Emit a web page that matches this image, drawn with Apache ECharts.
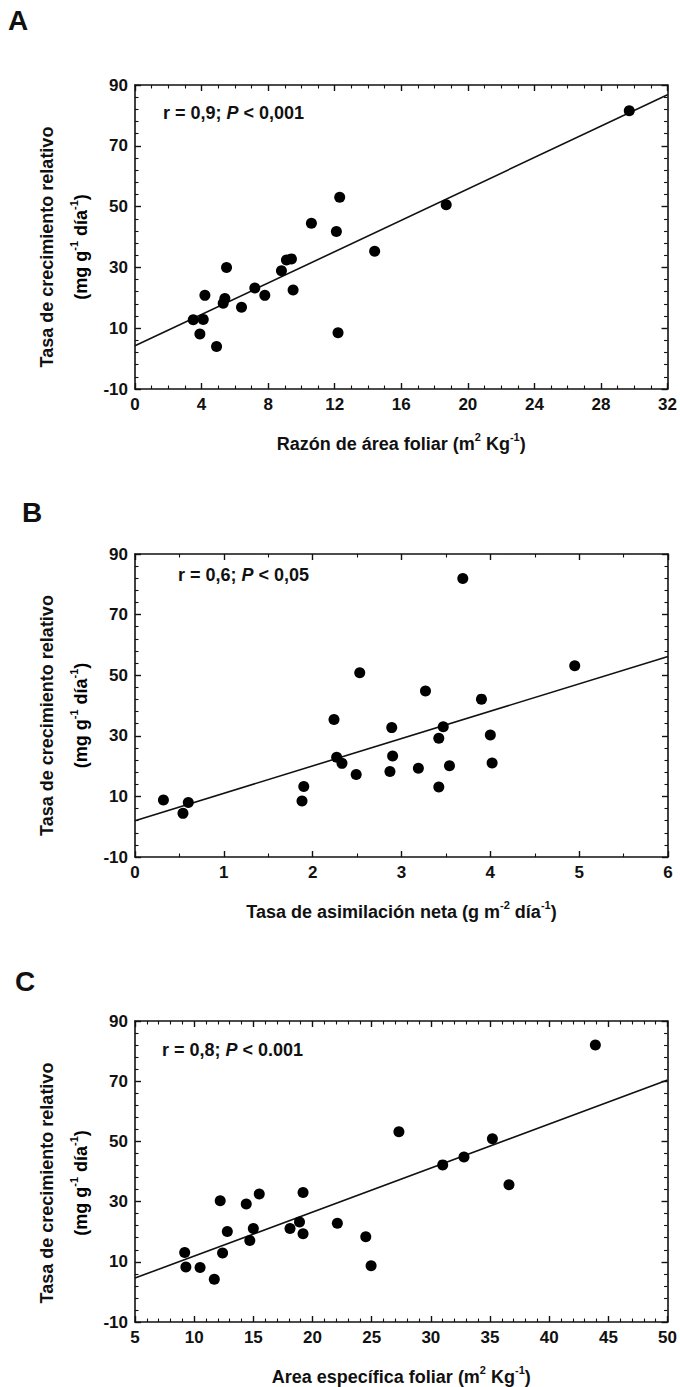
<!DOCTYPE html>
<html>
<head>
<meta charset="utf-8">
<script src="https://cdn.jsdelivr.net/npm/echarts@6/dist/echarts.min.js"></script>
<style>
html,body{margin:0;padding:0;background:#fff;}
#chart{width:680px;height:1387px;}
</style>
</head>
<body>
<div id="chart"></div>
<script>
// ---------- data ----------
// Panel A: Razón de área foliar (x) vs Tasa de crecimiento relativo (y)
const rafX = [29.7, 18.7, 12.3, 10.6, 12.1, 14.4, 9.4, 9.1, 8.8, 5.5, 9.5, 7.2, 7.8, 4.2, 5.4, 5.3, 6.4, 3.5, 4.1, 3.9, 4.9, 12.2];
const rafY = [81.5, 50.6, 53.1, 44.5, 41.8, 35.3, 32.8, 32.4, 28.9, 30.0, 22.6, 23.2, 20.8, 20.8, 19.8, 18.2, 16.9, 12.8, 12.9, 8.1, 4.0, 8.5];
// Panel B: Tasa de asimilación neta (x)
const tanX = [0.32, 0.54, 0.60, 1.88, 1.90, 2.24, 2.27, 2.33, 2.53, 2.49, 2.89, 2.90, 2.87, 3.19, 3.27, 3.42, 3.42, 3.47, 3.54, 3.69, 3.90, 4.00, 4.02, 4.95];
const tanY = [8.8, 4.4, 8.0, 8.5, 13.3, 35.4, 22.9, 20.9, 50.8, 17.2, 32.7, 23.3, 18.2, 19.3, 44.8, 13.1, 29.2, 33.0, 20.1, 81.9, 42.1, 30.3, 21.0, 53.1];
// Panel C: Area específica foliar (x)
const aefX = [43.9, 27.3, 35.2, 32.8, 31.0, 36.6, 19.2, 15.5, 12.2, 14.4, 12.8, 15.0, 18.1, 18.9, 19.2, 22.1, 14.7, 24.5, 24.95, 9.2, 9.3, 10.5, 11.7, 12.4];
const aefY = [82.0, 53.2, 50.9, 44.8, 42.2, 35.6, 33.0, 32.5, 30.3, 29.2, 20.1, 21.1, 21.1, 23.2, 19.3, 22.8, 17.1, 18.3, 8.7, 13.1, 8.3, 8.1, 4.2, 12.9];
// regression lines (end points)
const fitA = [[0, 4.2], [32, 86.8]];
const fitB = [[0, 2.0], [6, 56.2]];
const fitC = [[5, 4.6], [50, 70.4]];
// axes / ticks
const yRange = {min: -10, max: 90, interval: 20, minor: 5};
const xRangeA = {min: 0, max: 32, interval: 4, minor: 4};
const xRangeB = {min: 0, max: 6, interval: 1, minor: 2};
const xRangeC = {min: 5, max: 50, interval: 5, minor: 5};
// texts
const panelLetters = ['A', 'B', 'C'];
const statTexts = [
  ['r = 0,9; ', 'P', ' < 0,001'],
  ['r = 0,6; ', 'P', ' < 0,05'],
  ['r = 0,8; ', 'P', ' < 0.001']
];
const xTitles = [
  ['Razón de área foliar (m', '2', ' Kg', '-1', ')'],
  ['Tasa de asimilación neta (g m', '-2', ' día', '-1', ')'],
  ['Area específica foliar (m', '2', ' Kg', '-1', ')']
];
const yTitle1 = 'Tasa de crecimiento relativo';
const yTitle2 = ['(mg g', '-1', ' día', '-1', ')'];

// ---------- layout / style ----------
const F = "'Liberation Sans', Arial, Helvetica, sans-serif";
const INK = '#111111';
const PL = 135, PR = 668, W = 680;
const panels = [
  {top: 85, height: 304},
  {top: 554, height: 303},
  {top: 1021, height: 304}
];
const letterPos = [[8, 20], [22, 512], [15, 981]];
const statPos = [[163, 113], [178, 575], [162, 1050]];

const richTitle = {
  t: {fontSize: 18, fontWeight: 'bold', fontFamily: F, color: INK, lineHeight: 22, verticalAlign: 'bottom'},
  s: {fontSize: 11, fontWeight: 'bold', fontFamily: F, color: INK, lineHeight: 10, verticalAlign: 'top'}
};
function supText(parts) {
  return parts.map((p, i) => (i % 2 === 0 ? '{t|' + p + '}' : '{s|' + p + '}')).join('');
}

const xRanges = [xRangeA, xRangeB, xRangeC];
const xs = [rafX, tanX, aefX];
const ys = [rafY, tanY, aefY];
const fits = [fitA, fitB, fitC];

const grid = [], xAxis = [], yAxis = [], series = [], graphic = [];

function axisCommon(r, showLabel) {
  return {
    type: 'value', min: r.min, max: r.max, interval: r.interval,
    axisLine: {show: true, onZero: false, lineStyle: {color: INK, width: 1.6}},
    axisTick: {show: true, inside: true, length: 6, lineStyle: {color: INK, width: 1.4}},
    minorTick: {show: true, splitNumber: r.minor, length: 3.5, lineStyle: {color: INK, width: 1.1}},
    splitLine: {show: false}, minorSplitLine: {show: false},
    axisLabel: {show: showLabel, fontSize: 17, fontWeight: 'bold', fontFamily: F, color: INK, margin: 7},
    silent: true
  };
}

panels.forEach((p, i) => {
  grid.push({left: PL, right: W - PR, top: p.top, height: p.height});
  const r = xRanges[i];
  xAxis.push(Object.assign(axisCommon(r, true), {
    gridIndex: i, position: 'bottom',
    name: supText(xTitles[i]), nameLocation: 'middle', nameGap: 42,
    nameTextStyle: {rich: richTitle}
  }));
  xAxis.push(Object.assign(axisCommon(r, false), {gridIndex: i, position: 'top'}));
  yAxis.push(Object.assign(axisCommon(yRange, true), {gridIndex: i, position: 'left'}));
  yAxis.push(Object.assign(axisCommon(yRange, false), {gridIndex: i, position: 'right'}));

  series.push({
    type: 'line', xAxisIndex: 2 * i, yAxisIndex: 2 * i,
    data: fits[i], showSymbol: false, symbol: 'none', clip: true,
    lineStyle: {color: INK, width: 1.6}, silent: true, z: 2
  });
  series.push({
    type: 'scatter', xAxisIndex: 2 * i, yAxisIndex: 2 * i,
    data: xs[i].map((x, k) => [x, ys[i][k]]),
    symbol: 'circle', symbolSize: 11,
    itemStyle: {color: '#000000', opacity: 1}, silent: true, z: 3
  });

  // panel letter
  graphic.push({
    type: 'text', left: letterPos[i][0], top: letterPos[i][1] - 14,
    style: {text: panelLetters[i], fontSize: 28, fontWeight: 'bold', fontFamily: F, fill: INK}
  });
  // statistics
  const st = statTexts[i];
  graphic.push({
    type: 'text', x: statPos[i][0], y: statPos[i][1],
    style: {
      text: '{b|' + st[0] + '}{i|' + st[1] + '}{b|' + st[2] + '}',
      align: 'left', verticalAlign: 'middle', textAlign: 'left', textVerticalAlign: 'middle',
      rich: {
        b: {fontSize: 18, fontWeight: 'bold', fontFamily: F, fill: INK, color: INK},
        i: {fontSize: 18, fontWeight: 'bold', fontStyle: 'italic', fontFamily: F, fill: INK, color: INK}
      }
    }
  });
  // y titles (rotated)
  const cy = p.top + p.height / 2 + 10;
  graphic.push({
    type: 'text', x: 47, y: cy, rotation: Math.PI / 2,
    style: {text: yTitle1, fontSize: 18, fontWeight: 'bold', fontFamily: F, fill: INK,
      align: 'center', verticalAlign: 'middle', textAlign: 'center', textVerticalAlign: 'middle'}
  });
  graphic.push({
    type: 'text', x: 79, y: cy, rotation: Math.PI / 2,
    style: {text: supText(yTitle2), rich: richTitle,
      align: 'center', verticalAlign: 'middle', textAlign: 'center', textVerticalAlign: 'middle'}
  });
});

const chart = echarts.init(document.getElementById('chart'), null, {renderer: 'svg'});
chart.setOption({
  backgroundColor: '#ffffff',
  animation: false,
  grid, xAxis, yAxis, series, graphic
});
</script>
</body>
</html>
